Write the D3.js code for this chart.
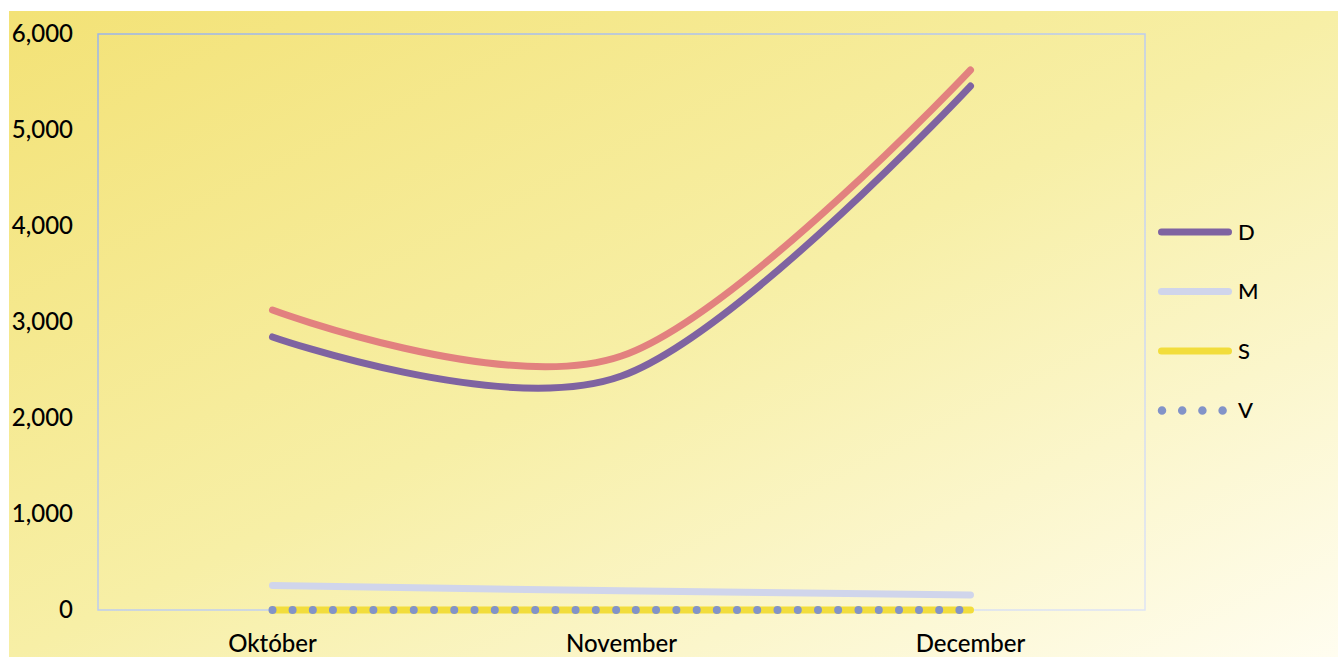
<!DOCTYPE html>
<html>
<head>
<meta charset="utf-8">
<script src="https://cdn.jsdelivr.net/npm/d3@7"></script>
<style>
  html, body { margin: 0; padding: 0; background: #fff; }
  svg { display: block; font-family: Lato, "Open Sans", sans-serif; }
</style>
</head>
<body>
<div id="chart"></div>
<script>
// data
const months = ["Október", "November", "December"];
const seriesD = [2844, 2437, 5458];
const seriesPink = [3125, 2646, 5625];
const seriesM = [255, 200, 156];
const seriesS = [0, 0, 0];
const seriesV = [0, 0, 0];
const yTicks = [0, 1000, 2000, 3000, 4000, 5000, 6000];

const series = [
    { name: "K", values: seriesPink, color: "#E2817F", dash: null, legend: false },
    { name: "D", values: seriesD, color: "#7F63A1", dash: null, legend: true },
    { name: "M", values: seriesM, color: "#D0D5EB", dash: null, legend: true },
    { name: "S", values: seriesS, color: "#F2DD3C", dash: null, legend: true },
    { name: "V", values: seriesV, color: "#8293C8", dash: "0 20.2", legend: true }
];

const W = 1338, H = 657;
const plot = { left: 98, top: 34, right: 1145, bottom: 610 };

const svg = d3.select("#chart")
    .append("svg")
    .attr("width", W)
    .attr("height", H);

const defs = svg.append("defs");
const bg = defs.append("linearGradient")
    .attr("id", "bgGrad")
    .attr("x1", 0).attr("y1", 0).attr("x2", 1).attr("y2", 1);
bg.append("stop").attr("offset", 0).attr("stop-color", "#F3E276");
bg.append("stop").attr("offset", 0.5).attr("stop-color", "#F7EFA6");
bg.append("stop").attr("offset", 1).attr("stop-color", "#FFFDF0");

const bd = defs.append("linearGradient")
    .attr("id", "borderGrad")
    .attr("x1", 0).attr("y1", 0).attr("x2", 1).attr("y2", 1);
bd.append("stop").attr("offset", 0).attr("stop-color", "#9BB5EA");
bd.append("stop").attr("offset", 1).attr("stop-color", "#DEE4F4");

// chart background
svg.append("rect")
    .attr("x", 9).attr("y", 11)
    .attr("width", W - 9).attr("height", H - 11)
    .attr("fill", "url(#bgGrad)");

const x = d3.scaleBand()
    .domain(months)
    .range([plot.left, plot.right]);

const y = d3.scaleLinear()
    .domain([0, 6000])
    .range([plot.bottom, plot.top]);

// plot area border
svg.append("rect")
    .attr("x", plot.left).attr("y", plot.top)
    .attr("width", plot.right - plot.left)
    .attr("height", plot.bottom - plot.top)
    .attr("fill", "none")
    .attr("stroke", "url(#borderGrad)")
    .attr("stroke-width", 1.5);

// y axis labels
const yAxis = svg.append("g")
    .attr("transform", "translate(" + 73 + ",0)")
    .call(d3.axisLeft(y).tickValues(yTicks).tickSize(0).tickPadding(0).tickFormat(d3.format(",")));
yAxis.select(".domain").remove();
yAxis.selectAll("text")
    .attr("font-family", "Lato, 'Open Sans', sans-serif")
    .attr("font-size", 24)
    .attr("font-weight", 500)
    .attr("fill", "#000");

// x axis labels
const xAxis = svg.append("g")
    .attr("transform", "translate(0," + 635 + ")")
    .call(d3.axisBottom(x).tickSize(0).tickPadding(0));
xAxis.select(".domain").remove();
xAxis.selectAll("text")
    .attr("font-family", "Lato, 'Open Sans', sans-serif")
    .attr("font-size", 24)
    .attr("font-weight", 500)
    .attr("fill", "#000");

const line = d3.line()
    .x((d, i) => x(months[i]) + x.bandwidth() / 2)
    .y(d => y(d))
    .curve(d3.curveCardinal.tension(0));

// draw order: S below, dots on top
const drawOrder = ["S", "M", "K", "D", "V"];
drawOrder.forEach(name => {
    const s = series.find(t => t.name === name);
    svg.append("path")
        .datum(s.values)
        .attr("d", line)
        .attr("fill", "none")
        .attr("stroke", s.color)
        .attr("stroke-width", s.dash ? 8 : 7)
        .attr("stroke-linecap", "round")
        .attr("stroke-linejoin", "round")
        .attr("stroke-dasharray", s.dash);
});

// legend
const legendItems = series.filter(s => s.legend);
const legend = svg.append("g");
legendItems.forEach((s, i) => {
    const ly = 232 + i * 59.5;
    legend.append("line")
        .attr("x1", s.dash ? 1162 : 1161.5).attr("x2", s.dash ? 1228 : 1228.5)
        .attr("y1", ly).attr("y2", ly)
        .attr("stroke", s.color)
        .attr("stroke-width", s.dash ? 8.5 : 7)
        .attr("stroke-linecap", "round")
        .attr("stroke-dasharray", s.dash);
    legend.append("text")
        .attr("x", 1238)
        .attr("y", ly)
        .attr("dy", "0.36em")
        .attr("font-size", 22)
        .attr("font-weight", 500)
        .attr("fill", "#000")
        .text(s.name);
});
</script>
</body>
</html>
